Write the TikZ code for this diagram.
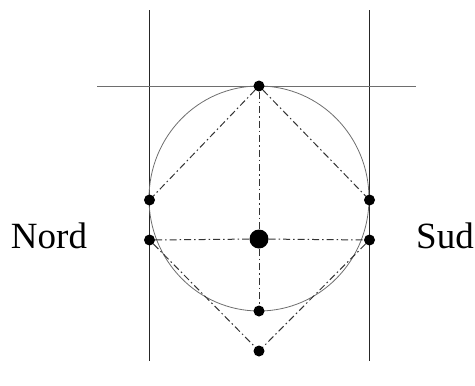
\documentclass[tikz,border=0pt]{standalone}
\usepackage{fontspec}
\setmainfont{Liberation Serif}
\usepackage{tikz}
\usetikzlibrary{positioning}
\definecolor{rimgray}{HTML}{6E6E6E}
\definecolor{chordgray}{HTML}{333333}

\begin{document}
\begin{tikzpicture}[x=1pt, y=-1pt,
  pt/.style={circle, fill=black, inner sep=0pt, minimum size=11pt},
  bigpt/.style={circle, fill=black, inner sep=0pt, minimum size=19pt},
  side/.style={font=\fontsize{37}{40}\selectfont, inner sep=0pt},
  guide/.style={line width=0.9pt, black!85},
  rim/.style={line width=0.8pt, rimgray},
  chord/.style={line width=1pt, chordgray,
    dash pattern=on 7pt off 3pt on 1.5pt off 3pt},
]
\useasboundingbox (0,0) rectangle (475,386);
% --- guide lines ---
\coordinate (lt) at (149.5,10);
\coordinate (lb) at (149.5,361);
\coordinate (rt) at (369.5,10);
\coordinate (rb) at (369.5,361);
\coordinate (hl) at (97,86);
\coordinate (hr) at (416,86);
\draw[guide] (lt) -- (lb);
\draw[guide] (rt) -- (rb);
\draw[rim] (hl) -- (hr);
\draw[rim] (259,198.5) ellipse[x radius=110, y radius=112.5];
% --- points ---
\node[pt] (top) at (259,86) {};
\node[pt] (lup) at (149.5,200) {};
\node[pt] (rup) at (369.5,200) {};
\node[pt] (llo) at (149.5,240) {};
\node[pt] (rlo) at (369.5,240) {};
\node[bigpt] (mid) at (259,239) {};
\node[pt] (bot) at (259,311) {};
\node[pt] (tip) at (259,351) {};
% --- chords ---
\draw[chord] (top) -- (lup);
\draw[chord] (top) -- (rup);
\draw[chord] (top) -- (mid);
\draw[chord] (mid) -- (bot);
\draw[chord] (llo) -- (mid);
\draw[chord] (mid) -- (rlo);
\draw[chord] (llo) -- (tip);
\draw[chord] (rlo) -- (tip);
% --- labels ---
\node[side] (nord) at (49,236) {Nord};
\node[side] (sud) at (445,236) {Sud};
\end{tikzpicture}
\end{document}
